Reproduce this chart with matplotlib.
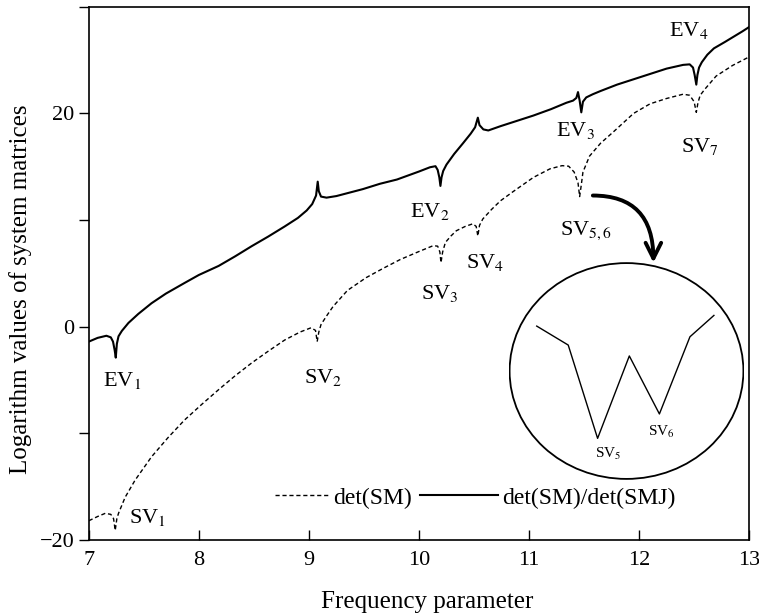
import numpy as np
import matplotlib
matplotlib.use("Agg")
import matplotlib.pyplot as plt
from matplotlib.patches import Ellipse, FancyArrowPatch

plt.rcParams['font.family'] = ['Liberation Serif', 'DejaVu Serif']
plt.rcParams['mathtext.fontset'] = 'stix'

# det(SM)/det(SMJ), solid curve
freq_ratio = [7.00, 7.08, 7.16, 7.20, 7.22, 7.235, 7.245, 7.255, 7.27, 7.30, 7.36, 7.45,
              7.57, 7.70, 7.87, 8.00, 8.18, 8.33, 8.48, 8.63, 8.78, 8.90, 8.98, 9.03,
              9.065, 9.08, 9.09, 9.11, 9.16, 9.25, 9.49, 9.645, 9.80, 10.00, 10.10, 10.15,
              10.17, 10.185, 10.195, 10.205, 10.22, 10.25, 10.32, 10.40, 10.47, 10.51,
              10.535, 10.55, 10.585, 10.63, 10.74, 10.92, 11.04, 11.20, 11.34, 11.40,
              11.43, 11.445, 11.46, 11.475, 11.49, 11.52, 11.58, 11.65, 11.80, 11.95,
              12.10, 12.25, 12.40, 12.46, 12.49, 12.505, 12.52, 12.53, 12.545, 12.57,
              12.62, 12.68, 12.78, 12.86, 12.94, 13.00]
log_ratio = [-1.4, -1.05, -0.85, -1.0, -1.4, -2.2, -2.9, -1.6, -0.9, -0.4, 0.35, 1.2,
             2.2, 3.1, 4.1, 4.85, 5.7, 6.6, 7.55, 8.45, 9.4, 10.2, 10.9, 11.5,
             12.3, 13.6, 12.7, 12.2, 12.1, 12.25, 12.9, 13.4, 13.8, 14.55, 14.95, 15.05,
             14.7, 14.0, 13.2, 14.0, 14.6, 15.2, 16.2, 17.2, 18.1, 18.7,
             19.6, 18.9, 18.5, 18.4, 18.8, 19.4, 19.8, 20.4, 21.0, 21.2,
             21.45, 22.0, 21.2, 20.1, 21.1, 21.5, 21.8, 22.1, 22.7, 23.2,
             23.7, 24.2, 24.55, 24.6, 24.3, 23.6, 22.7, 23.6, 24.3, 24.8,
             25.5, 26.1, 26.7, 27.2, 27.7, 28.1]

# det(SM), dashed curve
freq_sm = [7.00, 7.08, 7.15, 7.20, 7.225, 7.24, 7.255, 7.27, 7.33, 7.42, 7.57, 7.72,
           7.87, 8.03, 8.18, 8.33, 8.48, 8.63, 8.78, 8.92, 9.02, 9.06, 9.075, 9.09,
           9.11, 9.16, 9.22, 9.35, 9.52, 9.68, 9.83, 10.00, 10.13, 10.17, 10.19, 10.20,
           10.215, 10.24, 10.29, 10.34, 10.42, 10.49, 10.52, 10.535, 10.55, 10.58,
           10.66, 10.74, 10.86, 11.04, 11.19, 11.30, 11.36, 11.41, 11.445, 11.46,
           11.475, 11.49, 11.55, 11.65, 11.77, 11.95, 12.10, 12.25, 12.40, 12.46,
           12.50, 12.52, 12.535, 12.555, 12.60, 12.70, 12.85, 13.00]
log_sm = [-18.2, -17.8, -17.5, -17.6, -18.0, -19.1, -18.0, -17.5, -16.0, -14.4, -12.2, -10.4,
          -8.75, -7.25, -5.9, -4.6, -3.4, -2.3, -1.25, -0.5, -0.1, -0.35, -1.4, -0.5,
          0.2, 1.0, 1.9, 3.4, 4.6, 5.5, 6.3, 7.05, 7.6, 7.55, 7.0, 6.0,
          7.0, 7.9, 8.5, 9.0, 9.4, 9.65, 9.4, 8.5, 9.5, 10.1,
          11.0, 11.8, 12.7, 14.0, 14.8, 15.1, 15.05, 14.5, 13.5, 12.2,
          13.3, 14.5, 16.0, 17.2, 18.3, 20.0, 20.9, 21.4, 21.8, 21.7,
          21.1, 20.1, 21.0, 21.7, 22.3, 23.5, 24.5, 25.3]

# zoomed view of SV5 / SV6 (relative units inside the circle)
zoom_x = [0.118, 0.252, 0.377, 0.512, 0.640, 0.770, 0.872]
zoom_y = [0.706, 0.619, 0.191, 0.569, 0.303, 0.657, 0.755]

# point labels: text, x, y
labels = [(r'EV$_1$', 7.30, -5.0), (r'SV$_1$', 7.53, -17.9), (r'SV$_2$', 9.13, -4.8),
          (r'EV$_2$', 10.10, 10.8), (r'SV$_3$', 10.19, 3.1), (r'SV$_4$', 10.60, 6.0),
          (r'EV$_3$', 11.42, 18.4), (r'SV$_7$', 12.55, 16.9), (r'EV$_4$', 12.45, 27.8),
          (r'SV$_{5,6}$', 11.52, 9.0)]

fig = plt.figure(figsize=(7.59, 6.15), dpi=100)
ax = fig.add_axes([0.117, 0.122, 0.870, 0.867])

l_sm, = ax.plot(freq_sm, log_sm, color='black', lw=1.0, ls=(0, (3, 2)))
l_ratio, = ax.plot(freq_ratio, log_ratio, color='black', lw=1.5)

for txt, x, y in labels:
    ax.text(x, y, txt, fontsize=16, ha='center', va='center')

ax.set_xlim(7, 13)
ax.set_ylim(-20, 30)
ax.set_xticks(range(7, 14))
ax.set_yticks([-20, -10, 0, 10, 20, 30])
ax.set_yticklabels(['\u221220', '', '0', '', '20', ''])
ax.tick_params(axis='x', direction='in', length=7, width=1, labelsize=16, pad=8)
ax.tick_params(axis='y', direction='out', length=7, width=1, labelsize=16)
for s in ax.spines.values():
    s.set_linewidth(1.2)

ax.set_xlabel('Frequency parameter', fontsize=18)
ax.xaxis.set_label_coords(0.512, -0.095)
ax.set_ylabel('Logarithm values of system matrices', fontsize=18)
ax.yaxis.set_label_coords(-0.086, 0.47)

# two legend entries with different handle lengths, as in the figure
leg1 = ax.legend([l_sm], ['det(SM)'], loc='center left', bbox_to_anchor=(0.282, 0.079),
                 frameon=False, fontsize=17, handlelength=2.3, handletextpad=0.15,
                 borderpad=0, borderaxespad=0)
ax.add_artist(leg1)
ax.legend([l_ratio], ['det(SM)/det(SMJ)'], loc='center left', bbox_to_anchor=(0.502, 0.079),
          frameon=False, fontsize=17, handlelength=3.3, handletextpad=0.15,
          borderpad=0, borderaxespad=0)

# curved arrow to the zoomed circle
arrow = FancyArrowPatch((11.58, 12.3), (12.13, 6.0), arrowstyle='->', mutation_scale=28,
                        connectionstyle='angle3,angleA=0,angleB=90', lw=2.8, color='black',
                        shrinkA=0, shrinkB=0)
ax.add_patch(arrow)

# inset circle with the zoomed dip
ins = fig.add_axes([509 / 759, 1 - 480 / 615, 235 / 759, 218 / 615])
ins.axis('off')
ins.set_xlim(0, 1)
ins.set_ylim(0, 1)
ins.add_patch(Ellipse((0.5, 0.5), 0.995, 0.99, fill=False, lw=1.3, color='black'))
ins.plot(zoom_x, zoom_y, color='black', lw=1.0)
ins.text(0.42, 0.12, r'SV$_5$', fontsize=11, ha='center', va='center')
ins.text(0.65, 0.22, r'SV$_6$', fontsize=11, ha='center', va='center')

fig.savefig('out.png', dpi=100)
